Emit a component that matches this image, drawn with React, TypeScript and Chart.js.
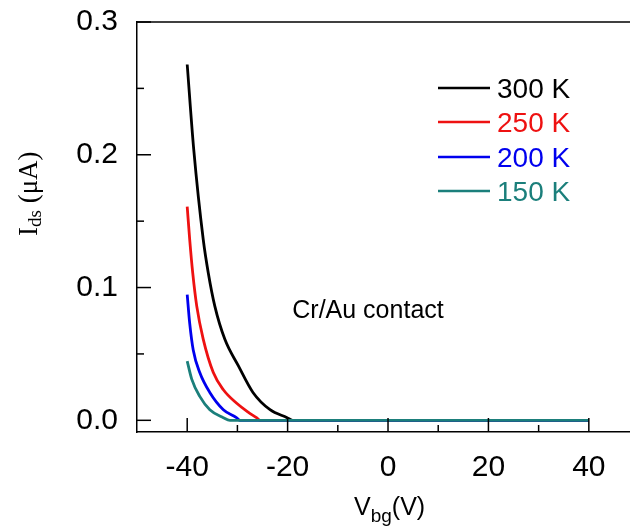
import React, { useEffect, useRef } from "react";
import { Chart, registerables } from "chart.js";

Chart.register(...registerables);

// ---- data ----
const xMajorTicks = [-40, -20, 0, 20, 40];
const xMinorTicks = [-30, -10, 10, 30];
const yMajorTicks = [0, 0.1, 0.2, 0.3];
const yMinorTicks = [0.05, 0.15, 0.25];

const seriesLabels = ["300 K", "250 K", "200 K", "150 K"];
const seriesColors = ["#000000", "#ee1111", "#0000ee", "#1b7f7b"];

const vbg300 = [-40, -38.7, -36.8, -35.8, -34.5, -32.5, -29.8, -26.9, -23.5, -20.1, -19, 40];
const ids300 = [0.268, 0.204, 0.136, 0.111, 0.086, 0.061, 0.041, 0.021, 0.008, 0.002, 0, 0];

const vbg250 = [-40, -39.5, -38.9, -38.1, -36.8, -34.8, -32.8, -30.2, -27.8, -26.2, -25.5, 40];
const ids250 = [0.161, 0.136, 0.111, 0.086, 0.061, 0.036, 0.023, 0.013, 0.006, 0.002, 0, 0];

const vbg200 = [-40, -39.5, -38.8, -37.5, -35.5, -32.8, -30.2, -29.5, 40];
const ids200 = [0.0947, 0.073, 0.053, 0.036, 0.021, 0.008, 0.002, 0, 0];

const vbg150 = [-40, -39.1, -37.5, -35.5, -32.8, -31.5, 40];
const ids150 = [0.0446, 0.031, 0.018, 0.008, 0.002, 0, 0];

const seriesX = [vbg300, vbg250, vbg200, vbg150];
const seriesY = [ids300, ids250, ids200, ids150];

const annotationText = "Cr/Au contact";

const SANS = "'Liberation Sans', Arial, sans-serif";
const SERIF = "'Liberation Serif', 'Times New Roman', serif";

const decorPlugin = {
  id: "decor",
  afterDatasetsDraw(chart: any) {
    const { ctx, chartArea: ca, scales } = chart;
    const x = scales.x;
    const y = scales.y;
    ctx.save();
    ctx.strokeStyle = "#000";
    ctx.lineWidth = 1.5;
    ctx.beginPath();
    ctx.moveTo(ca.left, ca.top);
    ctx.lineTo(ca.right, ca.top);
    ctx.stroke();
    const tick = (x1: number, y1: number, x2: number, y2: number) => {
      ctx.beginPath();
      ctx.moveTo(x1, y1);
      ctx.lineTo(x2, y2);
      ctx.stroke();
    };
    xMajorTicks.forEach((v) => {
      const px = x.getPixelForValue(v);
      tick(px, ca.bottom, px, ca.bottom - 14);
    });
    xMinorTicks.forEach((v) => {
      const px = x.getPixelForValue(v);
      tick(px, ca.bottom, px, ca.bottom - 7);
    });
    yMajorTicks.forEach((v) => {
      const py = y.getPixelForValue(v);
      tick(ca.left, py, ca.left + 14, py);
    });
    yMinorTicks.forEach((v) => {
      const py = y.getPixelForValue(v);
      tick(ca.left, py, ca.left + 7, py);
    });
    ctx.restore();
  },
  afterDraw(chart: any) {
    const { ctx } = chart;
    ctx.save();
    // legend
    const lx0 = 438;
    const lx1 = 490;
    const rows = [88, 122, 157, 191];
    chart.data.datasets.forEach((ds: any) => {
      const idx = seriesLabels.indexOf(ds.label);
      const ry = rows[idx];
      ctx.strokeStyle = ds.borderColor;
      ctx.lineWidth = 2.5;
      ctx.beginPath();
      ctx.moveTo(lx0, ry);
      ctx.lineTo(lx1, ry);
      ctx.stroke();
      ctx.fillStyle = ds.borderColor;
      ctx.font = `28px ${SANS}`;
      ctx.textAlign = "left";
      ctx.textBaseline = "middle";
      ctx.fillText(ds.label, 497, ry + 2);
    });
    // annotation
    ctx.fillStyle = "#000";
    ctx.font = `25px ${SANS}`;
    ctx.textAlign = "center";
    ctx.textBaseline = "middle";
    ctx.fillText(annotationText, 368, 311);

    // x title: V_bg(V)
    ctx.textAlign = "left";
    ctx.textBaseline = "alphabetic";
    let cx = 354;
    const base = 515;
    ctx.font = `25px ${SANS}`;
    ctx.fillText("V", cx, base);
    cx += ctx.measureText("V").width;
    ctx.font = `19px ${SANS}`;
    ctx.fillText("bg", cx, base + 7);
    cx += ctx.measureText("bg").width;
    ctx.font = `25px ${SANS}`;
    ctx.fillText("(V)", cx, base);

    // y title: I_ds (μA), rotated
    ctx.translate(37, 236);
    ctx.rotate(-Math.PI / 2);
    let ty = 0;
    ctx.font = `27px ${SERIF}`;
    ctx.fillText("I", ty, 0);
    ty += ctx.measureText("I").width;
    ctx.font = `19px ${SERIF}`;
    ctx.fillText("ds", ty, 4);
    ty += ctx.measureText("ds").width;
    ctx.font = `27px ${SERIF}`;
    ctx.fillText(" (\u03bcA)", ty, 0);
    ctx.restore();
  },
};

export default function App() {
  const ref = useRef<HTMLCanvasElement | null>(null);

  useEffect(() => {
    if (!ref.current) return;
    const datasets = seriesLabels.map((label, i) => ({
      label,
      data: seriesX[i].map((xv, j) => ({ x: xv, y: seriesY[i][j] })),
      borderColor: seriesColors[i],
      backgroundColor: seriesColors[i],
      borderWidth: 2.8,
      pointRadius: 0,
      cubicInterpolationMode: "monotone" as const,
      fill: false,
      order: 3 - i,
    }));

    const chart = new Chart(ref.current, {
      type: "line",
      data: { datasets },
      options: {
        responsive: false,
        animation: false,
        devicePixelRatio: 1,
        layout: { padding: { top: 22, right: 0, left: 0, bottom: 0 } },
        plugins: {
          legend: { display: false },
          tooltip: { enabled: false },
        },
        scales: {
          x: {
            type: "linear",
            min: -50,
            max: 48.2,
            afterBuildTicks: (scale: any) => {
              scale.ticks = xMajorTicks.map((value) => ({ value }));
            },
            afterFit: (scale: any) => {
              scale.height = 99;
              scale.paddingLeft = 0;
              scale.paddingRight = 0;
            },
            grid: { display: false, drawTicks: false },
            border: { display: true, color: "#000", width: 1.5 },
            ticks: {
              autoSkip: false,
              maxRotation: 0,
              padding: 18,
              color: "#000",
              font: { family: SANS, size: 30 },
              callback: (v: any) => String(v),
            },
          },
          y: {
            type: "linear",
            min: -0.0088,
            max: 0.3,
            afterBuildTicks: (scale: any) => {
              scale.ticks = yMajorTicks.map((value) => ({ value }));
            },
            afterFit: (scale: any) => {
              scale.width = 137;
              scale.paddingTop = 0;
              scale.paddingBottom = 0;
            },
            grid: { display: false, drawTicks: false },
            border: { display: true, color: "#000", width: 1.5 },
            ticks: {
              autoSkip: false,
              padding: 19,
              color: "#000",
              font: { family: SANS, size: 30 },
              callback: (v: any) => Number(v).toFixed(1),
            },
          },
        },
      },
      plugins: [decorPlugin],
    });
    return () => chart.destroy();
  }, []);

  return (
    <div style={{ position: "absolute", left: 0, top: 0, width: 630, height: 531, background: "#fff" }}>
      <canvas ref={ref} width={630} height={531} style={{ display: "block" }} />
    </div>
  );
}
